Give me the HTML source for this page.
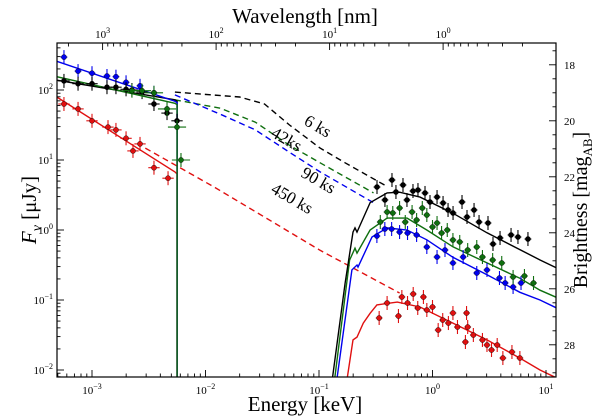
<!DOCTYPE html>
<html><head><meta charset="utf-8">
<style>
html,body{margin:0;padding:0;background:#fff;}
svg{display:block;font-family:"Liberation Serif","DejaVu Serif",serif;}
</style></head>
<body>
<svg id="chart" width="600" height="417" viewBox="0 0 600 417" xmlns="http://www.w3.org/2000/svg">
<defs><clipPath id="plotclip"><rect x="57" y="43" width="499" height="334"/></clipPath></defs>
<rect x="0" y="0" width="600" height="417" fill="#fff"/>
<g id="plot" clip-path="url(#plotclip)"></g>
<g id="axes"></g>
<text x="305" y="411" text-anchor="middle" font-size="21">Energy [keV]</text>
<text x="305" y="23" text-anchor="middle" font-size="21">Wavelength [nm]</text>
<text transform="translate(36,210) rotate(-90)" text-anchor="middle" font-size="21"><tspan font-style="italic">F</tspan><tspan font-style="italic" font-size="14" dy="5">ν</tspan><tspan dy="-5"> [μJy]</tspan></text>
<text transform="translate(587,210) rotate(-90)" text-anchor="middle" font-size="20">Brightness [mag<tspan font-size="13" dy="5">AB</tspan><tspan dy="-5">]</tspan></text>
<text transform="translate(303,124) rotate(30)" font-size="17">6 ks</text>
<text transform="translate(270,136) rotate(30)" font-size="17">42ks</text>
<text transform="translate(300,176) rotate(30)" font-size="17">90 ks</text>
<text transform="translate(270,192) rotate(30)" font-size="17">450 ks</text>
</svg>
<script>
// log10(E/keV) and log10(F/μJy) values
const colors = {k:'#000000', g:'#0f6f0f', b:'#0000ee', r:'#e01010'};
// optical data
const optKx = [-3.247,-3.123,-3.0,-2.868,-2.789,-2.70,-2.648,-2.559,-2.454,-2.339,-2.251];
const optKy = [2.13,2.09,2.09,2.04,2.04,2.01,2.0,1.97,1.8,1.67,1.56];
const optBx = [-3.247,-3.123,-3.0,-2.868,-2.789,-2.70,-2.577,-2.454];
const optBy = [2.47,2.27,2.24,2.2,2.19,2.11,2.06,1.96];
const optGx = [-2.454,-2.648,-2.559,-2.339,-2.251,-2.216];
const optGy = [1.96,1.99,1.99,1.73,1.47,1.0];
const optRx = [-3.247,-3.123,-3.0,-2.859,-2.789,-2.70,-2.639,-2.577,-2.454,-2.330];
const optRy = [1.8,1.73,1.56,1.47,1.43,1.31,1.13,1.23,0.89,0.74];
// X-ray data
const xrKx = [-0.489,-0.357,-0.419,-0.322,-0.26,-0.225,-0.172,-0.128,-0.066,-0.022,0.04,0.093,0.137,0.181,0.26,0.304,0.366,0.41,0.489,0.533,0.595,0.692,0.753,0.841];
const xrKy = [0.614,0.714,0.429,0.543,0.643,0.429,0.557,0.571,0.529,0.4,0.471,0.386,0.286,0.243,0.4,0.186,0.286,0.114,0.1,-0.2,-0.114,-0.071,-0.1,-0.129];
const xrGx = [-0.46,-0.4,-0.35,-0.29,-0.24,-0.18,-0.14,-0.09,-0.05,0.0,0.04,0.08,0.13,0.18,0.24,0.31,0.39,0.44,0.53,0.61,0.71,0.81,0.89];
const xrGy = [0.114,0.257,0.243,0.314,0.114,0.257,0.143,0.314,0.214,0.043,0.1,-0.043,0.0,-0.143,-0.171,-0.286,-0.243,-0.386,-0.429,-0.471,-0.671,-0.657,-0.757];
const xrBx = [-0.49,-0.42,-0.36,-0.29,-0.22,-0.14,-0.05,0.04,0.11,0.18,0.27,0.39,0.48,0.59,0.64,0.71,0.78];
const xrBy = [-0.086,0.014,0.014,-0.029,-0.043,-0.071,-0.243,-0.386,-0.286,-0.471,-0.386,-0.614,-0.571,-0.686,-0.757,-0.814,-0.757];
const xrRx = [-0.47,-0.40,-0.30,-0.27,-0.22,-0.17,-0.13,-0.08,-0.05,0.0,0.05,0.09,0.14,0.18,0.22,0.30,0.31,0.29,0.36,0.44,0.48,0.52,0.57,0.62,0.70,0.77];
const xrRy = [-1.257,-1.043,-1.229,-0.957,-1.043,-0.914,-1.114,-0.957,-1.143,-1.1,-1.429,-1.286,-1.329,-1.186,-1.386,-1.186,-1.386,-1.6,-1.5,-1.571,-1.643,-1.714,-1.643,-1.829,-1.743,-1.829];
// model fits (solid)
const fitOptKx = [-3.31,-2.27,-2.25,-2.25], fitOptKy = [2.14,1.86,1.84,-2.2];
const fitOptBx = [-3.31,-2.27,-2.25,-2.25], fitOptBy = [2.41,1.84,1.82,-2.2];
const fitOptRx = [-3.31,-2.27,-2.25,-2.25], fitOptRy = [1.9,0.83,0.8,-2.2];
const fitOptGx = [-3.31,-2.27,-2.25,-2.25], fitOptGy = [2.19,1.81,1.79,-2.2];
const fitXKx = [-0.88,-0.77,-0.70,-0.683,-0.665,-0.55,-0.40,-0.29,-0.11,0.18,0.48,0.95,1.09];
const fitXKy = [-2.1,-0.76,-0.03,0.03,-0.03,0.39,0.53,0.54,0.47,0.24,-0.04,-0.43,-0.54];
const fitXGx = [-0.86,-0.73,-0.683,-0.665,-0.55,-0.40,-0.225,-0.05,0.18,0.48,0.77,0.947,1.088];
const fitXGy = [-2.1,-0.43,-0.26,-0.33,0,0.17,0.17,0,-0.24,-0.47,-0.69,-0.86,-0.96];
const fitXBx = [-0.84,-0.71,-0.665,-0.656,-0.533,-0.40,-0.225,-0.05,0.18,0.48,0.77,0.947,1.088];
const fitXBy = [-2.1,-0.57,-0.5,-0.53,-0.1,0.03,0,-0.14,-0.39,-0.64,-0.89,-1.0,-1.11];
const fitXRx = [-0.75,-0.70,-0.665,-0.61,-0.55,-0.49,-0.31,-0.11,0.18,0.48,0.77,0.947,1.088];
const fitXRy = [-2.1,-1.57,-1.53,-1.33,-1.19,-1.07,-1.03,-1.1,-1.33,-1.57,-1.83,-2.0,-2.11];
// dashed extrapolations
const dashKx = [-2.27,-1.70,-1.48,-1.26,-0.99,-0.77,-0.42], dashKy = [1.97,1.9,1.8,1.5,1.17,0.96,0.64];
const dashGx = [-2.27,-1.87,-1.56,-1.26,-0.99,-0.52], dashGy = [1.86,1.74,1.54,1.21,0.96,0.53];
const dashBx = [-2.27,-1.85,-1.56,-1.26,-0.99,-0.52], dashBy = [1.93,1.64,1.43,1.11,0.83,0.39];
const dashRx = [-2.53,-1.92,-0.99,-0.29], dashRy = [1.17,0.61,-0.29,-0.9];
// ticks
const xTickExp = [-3,-2,-1,0,1];
const yTickExp = [2,1,0,-1,-2];
const topTickExp = [3,2,1,0];
const magTicks = [18,20,22,24,26,28];

const NS='http://www.w3.org/2000/svg';
const X = lx => 92 + (lx+3)*113.5;
const Y = ly => 230 - ly*70;
const L=57,R=556,T=43,B=377;
const plot=document.getElementById('plot'), axes=document.getElementById('axes');
function mk(tag, attrs, parent){const e=document.createElementNS(NS,tag);for(const k in attrs)e.setAttribute(k,attrs[k]);parent.appendChild(e);return e;}
function line(xs,ys,col,name,dash){
  const d=xs.map((v,i)=>(i?'L':'M')+X(v).toFixed(1)+' '+Y(ys[i]).toFixed(1)).join(' ');
  const p=mk('path',{d:d,fill:'none',stroke:col,'stroke-width':1.4},plot);
  if(dash)p.setAttribute('stroke-dasharray','6 4');
  
  
}
function pts(xs,ys,col,name,ex){
  const g=mk('g',{},plot);
  
  
  xs.forEach((v,i)=>{
    const cx=X(v), cy=Y(ys[i]);
    mk('line',{x1:cx,x2:cx,y1:Y(ys[i]+0.1),y2:Y(ys[i]-0.1),stroke:col,'stroke-width':1.1},g);
    mk('line',{x1:X(v-ex),x2:X(v+ex),y1:cy,y2:cy,stroke:col,'stroke-width':1.1},g);
    const c=mk('circle',{cx:cx,cy:cy,r:2.6,fill:col,stroke:'#000','stroke-width':0.4},g);
    
    
  });
}
line(dashKx,dashKy,colors.k,'dashed-6ks',true);
line(dashGx,dashGy,colors.g,'dashed-42ks',true);
line(dashBx,dashBy,colors.b,'dashed-90ks',true);
line(dashRx,dashRy,colors.r,'dashed-450ks',true);
line(fitOptRx,fitOptRy,colors.r,'fit-optical-450ks');
line(fitOptKx,fitOptKy,colors.k,'fit-optical-6ks');
line(fitOptBx,fitOptBy,colors.b,'fit-optical-90ks');
line(fitOptGx,fitOptGy,colors.g,'fit-optical-42ks');
line(fitXRx,fitXRy,colors.r,'fit-xray-450ks');
line(fitXBx,fitXBy,colors.b,'fit-xray-90ks');
line(fitXGx,fitXGy,colors.g,'fit-xray-42ks');
line(fitXKx,fitXKy,colors.k,'fit-xray-6ks');
pts(optRx,optRy,colors.r,'optical-points-450ks',0.05);
pts(optBx,optBy,colors.b,'optical-points-90ks',0.03);
pts(optKx,optKy,colors.k,'optical-points-6ks',0.05);
pts(optGx,optGy,colors.g,'optical-points-42ks',0.08);
pts(xrRx,xrRy,colors.r,'xray-points-450ks',0.03);
pts(xrBx,xrBy,colors.b,'xray-points-90ks',0.03);
pts(xrGx,xrGy,colors.g,'xray-points-42ks',0.03);
pts(xrKx,xrKy,colors.k,'xray-points-6ks',0.03);

// frame
const fr=mk('rect',{x:L,y:T,width:R-L,height:B-T,fill:'none',stroke:'#000','stroke-width':1.2},axes);


function tl(x1,y1,x2,y2){mk('line',{x1:x1,y1:y1,x2:x2,y2:y2,stroke:'#000','stroke-width':0.9},axes);}
function lab(x,y,exp,anchor,name){
  const t=mk('text',{x:x,y:y,'text-anchor':anchor,'font-size':11},axes);
  t.textContent='10';
  const s=mk('tspan',{dy:-5,'font-size':8},t); s.textContent=String(exp).replace('-','−');
  
  
}
// bottom x
for(let d=-4; d<=1; d++) for(let m=1;m<10;m++){
  const lx=d+Math.log10(m), x=X(lx); if(x<L||x>R) continue;
  const len=m===1?7:3.5; tl(x,B,x,B-len);
}
xTickExp.forEach(e=>lab(X(e),394,e,'middle','x-tick-label'));
// top wavelength axis
for(let d=-1; d<=4; d++) for(let m=1;m<10;m++){
  const lam=d+Math.log10(m), lx=0.0934-lam, x=X(lx); if(x<L||x>R) continue;
  tl(x,T,x,T+(m===1?7:3.5));
}
topTickExp.forEach(e=>lab(X(0.0934-e),38,e,'middle','top-tick-label'));
// left y
for(let d=-3; d<=2; d++) for(let m=1;m<10;m++){
  const ly=d+Math.log10(m), y=Y(ly); if(y<T||y>B) continue;
  tl(L,y,L+(m===1?7:3.5),y);
}
yTickExp.forEach(e=>lab(L-4,Y(e)+4,e,'end','y-tick-label'));
// right magnitude axis
for(let mg=16; mg<=30; mg+=0.5){
  const y=Y((23.9-mg)/2.5); if(y<T||y>B) continue;
  tl(R,y,R-(mg%2===0?7:3.5),y);
}
magTicks.forEach(mg=>{
  const t=mk('text',{x:R+8,y:Y((23.9-mg)/2.5)+4,'font-size':11},axes);
  t.textContent=mg;
  
  
});
</script>
</body></html>
